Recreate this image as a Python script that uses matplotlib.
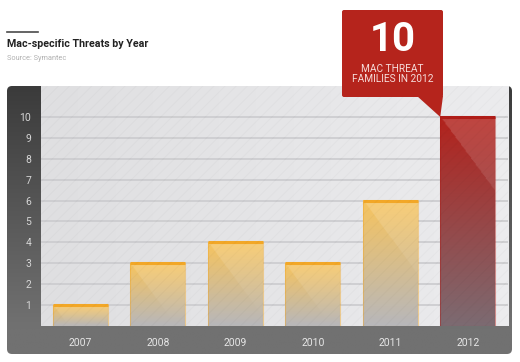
import matplotlib

matplotlib.use("Agg")
import matplotlib.pyplot as plt
import numpy as np
from matplotlib.colors import to_rgb
from matplotlib.patches import FancyBboxPatch, Rectangle, Polygon

YEARS = ["2007", "2008", "2009", "2010", "2011", "2012"]
THREATS = [1, 3, 4, 3, 6, 10]
Y_TICKS = [1, 2, 3, 4, 5, 6, 7, 8, 9, 10]

TITLE = "Mac-specific Threats by Year"
SOURCE = "Source: Symantec"

W, H = 520, 362
BAR_W = 0.71
ORANGE_TOP = "#f7c45e"
ORANGE_EDGE = "#f2a727"
RED_TOP = "#b3221c"
RED_EDGE = "#b01d18"
GREY_BOTTOM = "#b7b7bb"
RED_BOTTOM = "#7c6b72"

plt.rcParams["font.family"] = ["Roboto", "DejaVu Sans"]
plt.rcParams["hatch.linewidth"] = 0.8


def bar_image(top, bottom, height, px_w=55.0, px_per_unit=20.9):
    ny, nx = 200, 60
    u = np.linspace(0, 1, nx)[None, :]
    d = np.linspace(0, height, ny)[:, None]  # depth from top in data units
    t = (d / height)[..., None]
    c0 = np.array(to_rgb(top))
    c1 = np.array(to_rgb(bottom))
    img = c0 * (1 - t) + c1 * t
    img = np.broadcast_to(img, (ny, nx, 3)).copy()
    shine = (d * px_per_unit) < (1.33 * u * px_w)
    fade = np.clip(1 - d / (height * 0.9), 0, 1)
    amt = 0.16 * shine * fade
    img = img + (1 - img) * amt[..., None]
    return img


fig = plt.figure(figsize=(W / 100, H / 100), dpi=100)
fig.patch.set_facecolor("white")

# background frame (pixel coordinates)
bg = fig.add_axes([0, 0, 1, 1], zorder=0)
bg.set_xlim(0, W)
bg.set_ylim(H, 0)
bg.axis("off")
frame = FancyBboxPatch((7, 86), 505, 268, boxstyle="round,pad=0,rounding_size=5",
                       facecolor="none", edgecolor="none")
bg.add_patch(frame)
grad = np.linspace(0, 1, 100)[:, None]
grad = np.clip(grad / 0.9, 0, 1)
c_top, c_bot = np.array(to_rgb("#3b3b3b")), np.array(to_rgb("#717171"))
grad_img = c_top * (1 - grad[..., None]) + c_bot * grad[..., None]
grad_img = np.broadcast_to(grad_img, (100, 2, 3))
im = bg.imshow(grad_img, extent=(7, 512, 354, 86), aspect="auto", interpolation="bilinear")
im.set_clip_path(frame)

bg.plot([7, 38], [32, 32], color="#4a4a4a", lw=1.2)
bg.text(7, 44, TITLE, fontsize=7.7, fontweight="bold", color="#222222", va="center", ha="left")
bg.text(7, 59, SOURCE, fontsize=5.3, color="#b0b0b0", va="center", ha="left")

# main plot area
ax = fig.add_axes([41 / W, 1 - 326 / H, (508 - 41) / W, (326 - 86) / H], zorder=1)
xs = np.arange(len(YEARS))
ax.set_xlim(-0.51, 5.52)
ax.set_ylim(0, 11.48)

bg_grad = np.linspace(0, 1, 50)[None, :, None]
a, b = np.array(to_rgb("#dfdfe1")), np.array(to_rgb("#ececee"))
ax.imshow(a * (1 - bg_grad) + b * bg_grad, extent=(-0.51, 5.52, 0, 11.48),
          aspect="auto", zorder=0)

for y in Y_TICKS:
    ax.axhline(y, color="#cdcdd0", lw=1.3, zorder=1)

for i, (x, v) in enumerate(zip(xs, THREATS)):
    last = i == len(THREATS) - 1
    top = RED_TOP if last else ORANGE_TOP
    bottom = RED_BOTTOM if last else GREY_BOTTOM
    edge = RED_EDGE if last else ORANGE_EDGE
    img = bar_image(top, bottom, v)
    ax.imshow(img, extent=(x - BAR_W / 2, x + BAR_W / 2, 0, v), aspect="auto",
              zorder=2, interpolation="bilinear")
    ax.add_patch(Rectangle((x - BAR_W / 2, 0), BAR_W, v, facecolor="none",
                           edgecolor=edge, lw=0.8, alpha=0.45, zorder=3))
    ax.plot([x - BAR_W / 2, x + BAR_W / 2], [v, v], color=edge, lw=2.2,
            solid_capstyle="butt", zorder=3)

ax.add_patch(Rectangle((-0.51, 0), 6.03, 11.48, facecolor="none",
                       edgecolor=(0, 0, 0, 0.018), lw=0, hatch="///", zorder=4))

ax.set_aspect("auto")
ax.set_xticks(xs)
ax.set_xticklabels(YEARS)
ax.set_yticks(Y_TICKS)
ax.tick_params(axis="both", length=0, labelsize=7.5)
ax.tick_params(axis="x", colors="#e6e6e6", pad=9)
ax.tick_params(axis="y", colors="#d6d6d6", pad=7)
for s in ax.spines.values():
    s.set_visible(False)

# callout
ov = fig.add_axes([0, 0, 1, 1], zorder=2)
ov.set_xlim(0, W)
ov.set_ylim(H, 0)
ov.axis("off")
ov.patch.set_alpha(0)
tip_disp = ax.transData.transform((xs[-1] - BAR_W / 2, THREATS[-1]))
tip = ov.transData.inverted().transform(tip_disp)
box_l, box_r, box_t, box_b = 342, 443, 10, 97
ov.add_patch(FancyBboxPatch((box_l, box_t), box_r - box_l, box_b - box_t,
                            boxstyle="round,pad=0,rounding_size=2",
                            facecolor="#b5241c", edgecolor="none"))
ov.add_patch(Polygon([(417, box_b - 1), (box_r, box_b - 1), (tip[0], tip[1])],
                     closed=True, facecolor="#b5241c", edgecolor="none"))
cx = (box_l + box_r) / 2
ov.text(cx, 40, f"{THREATS[-1]}", fontsize=29, fontweight="bold", color="white",
        ha="center", va="center")
ov.text(cx, 74, f"MAC THREAT\nFAMILIES IN {YEARS[-1]}", fontsize=7.3, color="#f6dcda",
        ha="center", va="center", linespacing=1.05)

fig.savefig("out.png", dpi=100)
